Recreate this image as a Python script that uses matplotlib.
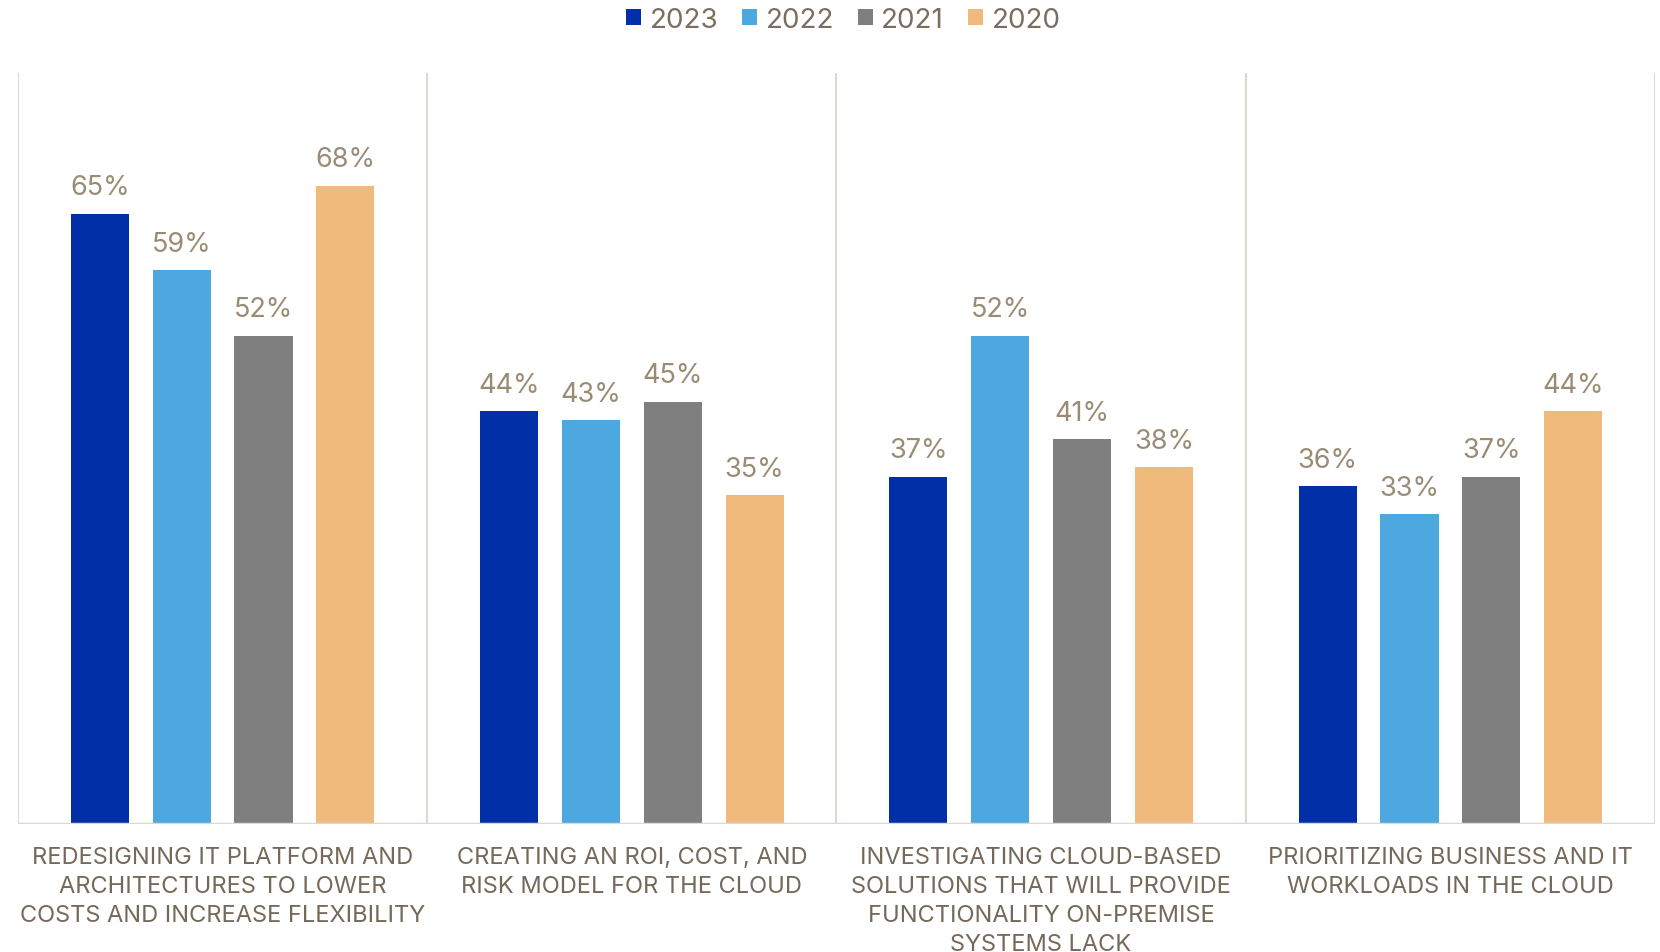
import matplotlib
matplotlib.use("Agg")
import matplotlib.pyplot as plt
import numpy as np

plt.rcParams['font.family'] = ['Inter', 'DejaVu Sans']

categories = [
    "REDESIGNING IT PLATFORM AND\nARCHITECTURES TO LOWER\nCOSTS AND INCREASE FLEXIBILITY",
    "CREATING AN ROI, COST, AND\nRISK MODEL FOR THE CLOUD",
    "INVESTIGATING CLOUD-BASED\nSOLUTIONS THAT WILL PROVIDE\nFUNCTIONALITY ON-PREMISE\nSYSTEMS LACK",
    "PRIORITIZING BUSINESS AND IT\nWORKLOADS IN THE CLOUD",
]
years = ["2023", "2022", "2021", "2020"]
values_2023 = [65, 44, 37, 36]
values_2022 = [59, 43, 52, 33]
values_2021 = [52, 45, 41, 37]
values_2020 = [68, 35, 38, 44]
series = [values_2023, values_2022, values_2021, values_2020]
colors = ["#002FA7", "#4EA8E0", "#7F7F7F", "#F0BA7C"]

label_color = "#9A8C74"
cat_color = "#75695A"
grid_color = "#DCD9D2"

fig = plt.figure(figsize=(16.6, 9.53), dpi=100)
ax = fig.add_axes([0.0108, 0.1343, 0.9862, 0.7881])

x = np.arange(len(categories))
offsets = [-0.3, -0.1, 0.1, 0.3]
width = 0.142

for vals, off, col, yr in zip(series, offsets, colors, years):
    bars = ax.bar(x + off, vals, width=width, color=col, label=yr, zorder=3)
    for b, v in zip(bars, vals):
        ax.annotate(f"{v}%", (b.get_x() + b.get_width() / 2, v),
                    xytext=(0, 19), textcoords="offset points",
                    ha="center", va="center", fontsize=19.5, color=label_color)

ax.set_xlim(-0.5, len(categories) - 0.5)
ax.set_ylim(0, 80)

# category separators
for b in np.arange(-0.5, len(categories), 1.0):
    ax.axvline(b, color=grid_color, lw=1.5, zorder=1)
ax.axhline(0, color=grid_color, lw=2.5, zorder=4)

for s in ax.spines.values():
    s.set_visible(False)
ax.set_yticks([])
ax.set_xticks(x)
ax.set_xticklabels(categories, fontsize=17, color=cat_color, linespacing=1.42)
ax.tick_params(axis="x", length=0, pad=15.5)

leg = fig.legend(loc="upper center", bbox_to_anchor=(0.508, 1.018), ncol=4, frameon=False,
                 fontsize=20, handlelength=0.55, handleheight=0.55, handletextpad=0.3,
                 columnspacing=0.85)
for t in leg.get_texts():
    t.set_color("#7A6E5E")

fig.savefig("out.png", dpi=100, facecolor="white")
